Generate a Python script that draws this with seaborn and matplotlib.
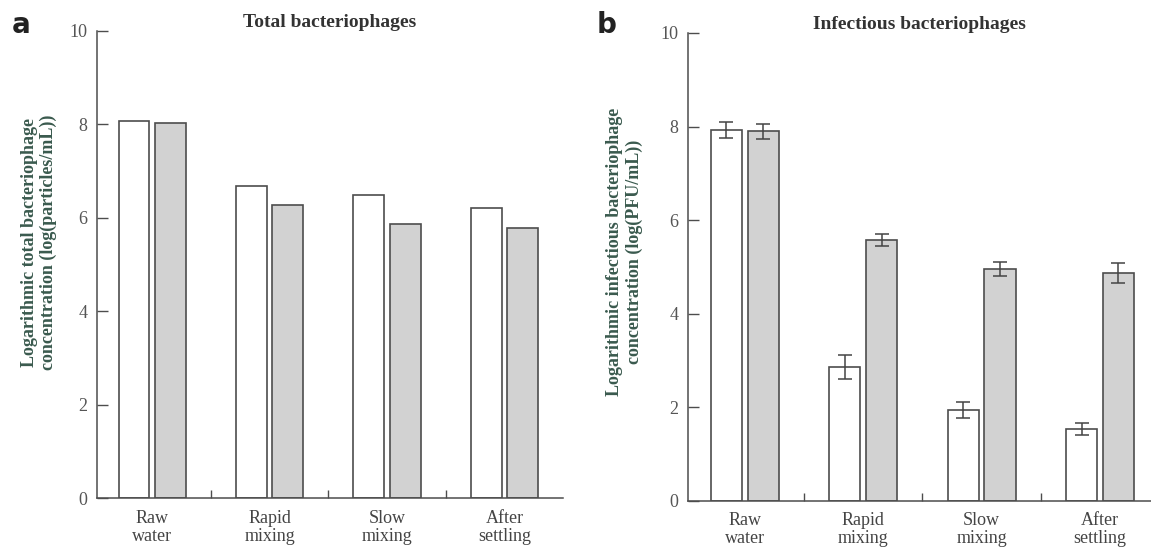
import numpy as np
import pandas as pd
import matplotlib
matplotlib.use('Agg')
import matplotlib.pyplot as plt
import seaborn as sns

# Data
stages = ['Raw\nwater', 'Rapid\nmixing', 'Slow\nmixing', 'After\nsettling']
series = ['A', 'B']

total_a = [8.07, 6.68, 6.49, 6.22]
total_b = [8.03, 6.28, 5.88, 5.78]

infect_a = [7.93, 2.86, 1.94, 1.54]
infect_b = [7.90, 5.57, 4.95, 4.87]
infect_a_err = [0.17, 0.26, 0.17, 0.12]
infect_b_err = [0.16, 0.13, 0.15, 0.22]

sns.set_theme(style='white')
plt.rcParams['font.family'] = ['Liberation Serif', 'DejaVu Serif']

edge = '#4d4d4d'
palette = ['white', '#d2d2d2']
label_color = '#3a5a4e'


def make_df(vals_a, vals_b):
    return pd.DataFrame({
        'stage': stages * 2,
        'series': [series[0]] * 4 + [series[1]] * 4,
        'value': vals_a + vals_b,
    })


def style_axis(ax, title, ylabel, label_xy, xlim):
    ax.set_ylim(0, 10)
    ax.set_xlim(*xlim)
    ax.set_yticks([0, 2, 4, 6, 8, 10])
    ax.set_xticks(range(len(stages)))
    ax.set_xticklabels(stages, fontsize=13, color='#444444', linespacing=1.1)
    ax.set_xticks([0.5, 1.5, 2.5], minor=True)
    ax.tick_params(axis='x', which='major', length=0, pad=8)
    ax.tick_params(axis='x', which='minor', direction='in', length=6,
                   width=1, color=edge, bottom=True)
    ax.tick_params(axis='y', direction='in', length=8, width=1, color=edge,
                   labelsize=13, labelcolor='#555555', pad=7, left=True)
    for s in ['top', 'right']:
        ax.spines[s].set_visible(False)
    for s in ['left', 'bottom']:
        ax.spines[s].set_color(edge)
        ax.spines[s].set_linewidth(1.1)
    ax.set_xlabel('')
    ax.set_ylabel(ylabel, fontsize=13, fontweight='bold', color=label_color,
                  linespacing=1.15)
    ax.yaxis.set_label_coords(*label_xy)
    ax.set_title(title, fontsize=14, fontweight='bold', color='#333333', pad=3)
    if ax.get_legend() is not None:
        ax.get_legend().remove()


fig = plt.figure(figsize=(11.51, 5.47), dpi=100)
ax1 = fig.add_axes([0.0843, 0.0887, 0.405, 0.8547])
ax2 = fig.add_axes([0.5977, 0.0841, 0.4023, 0.8556])

# === Panel a: total bacteriophages ===
sns.barplot(data=make_df(total_a, total_b), x='stage', y='value', hue='series',
            palette=palette, width=0.62, gap=0.15, edgecolor=edge,
            linewidth=1.2, errorbar=None, ax=ax1)
style_axis(ax1, 'Total bacteriophages',
           'Logarithmic total bacteriophage\nconcentration (log(particles/mL))',
           (-0.085, 0.547), (-0.47, 3.5))

# === Panel b: infectious bacteriophages ===
sns.barplot(data=make_df(infect_a, infect_b), x='stage', y='value', hue='series',
            palette=palette, width=0.62, gap=0.15, edgecolor=edge,
            linewidth=1.2, errorbar=None, ax=ax2)
for cont, errs in zip(ax2.containers, [infect_a_err, infect_b_err]):
    xs = [b.get_x() + b.get_width() / 2 for b in cont]
    ys = [b.get_height() for b in cont]
    ax2.errorbar(xs, ys, yerr=errs, fmt='none', ecolor='#444444',
                 elinewidth=1.1, capsize=5, capthick=1.1)
style_axis(ax2, 'Infectious bacteriophages',
           'Logarithmic infectious bacteriophage\nconcentration (log(PFU/mL))',
           (-0.098, 0.532), (-0.48, 3.43))

# panel letters
fig.text(0.010, 0.94, 'a', fontsize=20, fontweight='bold', family='DejaVu Sans',
         color='#222222')
fig.text(0.518, 0.94, 'b', fontsize=20, fontweight='bold', family='DejaVu Sans',
         color='#222222')

fig.savefig('out.png', dpi=100)
